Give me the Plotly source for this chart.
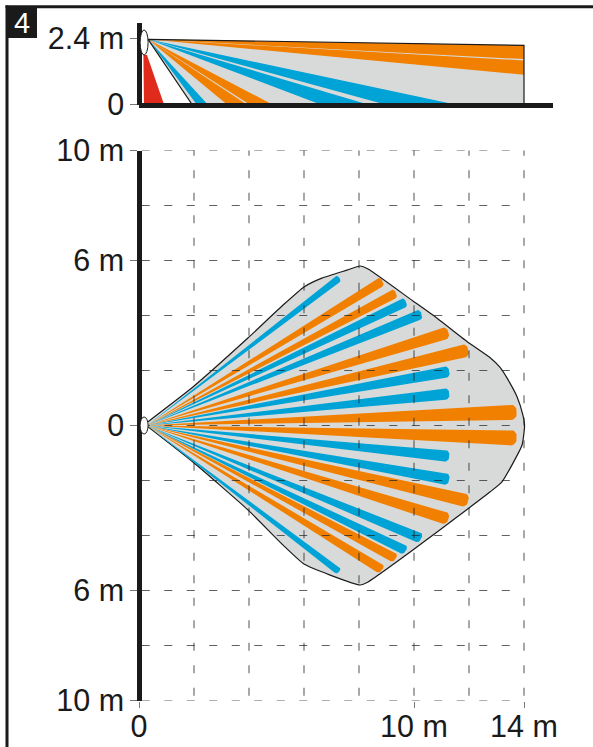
import math
import plotly.graph_objects as go

W, H = 593, 747
SCALE = 27.5  # pixels per metre in the source drawing

ORANGE = "#f28000"
BLUE = "#00a3d6"
GREY = "#d8dada"
RED = "#e02a1c"
INK = "#1a1a1a"
FONT = "Liberation Sans, Arial, sans-serif"
FS = 30.5

# --- top view (metres)
TOP_Y_TICKS = [10, 6, 0, -6, -10]
TOP_Y_TEXT = ["10 m", "6 m", "0", "6 m", "10 m"]
X_TICKS = [0, 10, 14]
X_TEXT = ["0", "10 m", "14 m"]
GRID_X = [2, 4, 6, 8, 10, 12, 14]
GRID_Y = [10, 8, 6, 4, 2, 0, -2, -4, -6, -8, -10]

ZONE_X = [0.33, 1.96, 3.96, 5.24, 6.0, 6.65, 7.56, 8.04, 8.33, 9.96, 10.84, 12.0, 12.76,
          13.13, 13.38, 13.75, 13.96, 14.02, 13.93, 13.56, 13.2, 12.76, 12.0, 10.84, 9.96,
          8.33, 8.04, 6.95, 6.0, 5.24, 3.96, 1.96, 0.33]
ZONE_Y = [0.14, 1.4, 3.18, 4.38, 5.04, 5.36, 5.65, 5.8, 5.69, 4.53, 3.9, 3.0, 2.47,
          2.11, 1.73, 1.04, 0.38, 0.0, -0.71, -1.44, -2.05, -2.42, -3.0, -3.87, -4.53,
          -5.69, -5.8, -5.44, -5.04, -4.35, -3.07, -1.33, -0.05]

BEAM_TIP_X = [7.28, 8.85, 9.34, 9.71, 10.27, 11.25, 11.97, 11.28, 11.28, 13.73,
              13.73, 11.28, 11.28, 11.97, 11.25, 10.27, 9.71, 9.34, 8.85, 7.28]
BEAM_TIP_Y = [5.37, 5.26, 4.83, 4.5, 4.07, 3.39, 2.75, 1.97, 1.16, 0.49,
              -0.45, -1.12, -1.97, -2.74, -3.4, -4.1, -4.54, -4.83, -5.24, -5.31]
BEAM_WIDTH = [0.27, 0.36, 0.36, 0.36, 0.39, 0.45, 0.48, 0.42, 0.42, 0.56,
              0.56, 0.42, 0.42, 0.48, 0.45, 0.39, 0.36, 0.36, 0.36, 0.27]
BEAM_COLOR = [BLUE, ORANGE, ORANGE, BLUE, BLUE, ORANGE, ORANGE, BLUE, BLUE, ORANGE,
              ORANGE, BLUE, BLUE, ORANGE, ORANGE, BLUE, BLUE, ORANGE, ORANGE, BLUE]
APEX_X, APEX_Y = 0.29, 0.0

# --- side view (metres)
SIDE_Y_TICKS = [2.4, 0]
SIDE_Y_TEXT = ["2.4 m", "0"]
SIDE_APEX = (0.33, 2.37)
SIDE_ZONE_X = [0.33, 14.0, 14.0, 1.93]
SIDE_ZONE_Y = [2.37, 2.15, 0.0, 0.0]
SIDE_RED_X = [0.16, 0.29, 0.91, 0.18]
SIDE_RED_Y = [1.8, 1.8, 0.0, 0.0]
# each beam: two far-end points
SIDE_A_X = [14.0, 14.0, 11.5, 8.33, 4.85, 3.92, 2.5]
SIDE_A_Y = [2.15, 1.6, 0.0, 0.0, 0.0, 0.0, 0.0]
SIDE_B_X = [14.0, 14.0, 8.95, 6.6, 4.02, 3.2, 2.1]
SIDE_B_Y = [1.65, 1.08, 0.0, 0.0, 0.0, 0.0, 0.0]
SIDE_COLOR = [ORANGE, ORANGE, BLUE, BLUE, ORANGE, ORANGE, BLUE]

# --- sensor ellipses: x0, x1, y0, y1
SENSOR_TOP = [0.04, 0.33, -0.31, 0.31]
SENSOR_SIDE = [0.04, 0.33, 1.80, 2.71]


def beam_outline(tx, ty, w):
    dx, dy = tx - APEX_X, ty - APEX_Y
    length = math.hypot(dx, dy)
    ux, uy = dx / length, dy / length
    nx, ny = -uy, ux
    hw = w / 2
    r = hw * 0.75
    xs, ys = [APEX_X], [APEX_Y]
    arc = []
    for k in range(9):
        a = math.pi / 2 * k / 8
        along = length - r + r * math.sin(a)
        off = hw - r + r * math.cos(a)
        arc.append((along, off))
    pts = arc + [(a, -o) for a, o in reversed(arc)]
    for along, off in pts:
        xs.append(APEX_X + ux * along + nx * off)
        ys.append(APEX_Y + uy * along + ny * off)
    xs.append(APEX_X)
    ys.append(APEX_Y)
    return xs, ys


fig = go.Figure()


def poly(xs, ys, color, axes):
    fig.add_trace(go.Scatter(x=xs, y=ys, mode="lines", fill="toself", fillcolor=color,
                             line=dict(width=0), hoverinfo="skip", showlegend=False,
                             xaxis=axes[0], yaxis=axes[1]))


# side view
poly(SIDE_ZONE_X, SIDE_ZONE_Y, GREY, ("x2", "y2"))
poly(SIDE_RED_X, SIDE_RED_Y, RED, ("x2", "y2"))
for ax_, ay_, bx_, by_, c in zip(SIDE_A_X, SIDE_A_Y, SIDE_B_X, SIDE_B_Y, SIDE_COLOR):
    poly([SIDE_APEX[0], ax_, bx_], [SIDE_APEX[1], ay_, by_], c, ("x2", "y2"))
fig.add_trace(go.Scatter(x=SIDE_ZONE_X + SIDE_ZONE_X[:1], y=SIDE_ZONE_Y + SIDE_ZONE_Y[:1],
                         mode="lines", line=dict(color=INK, width=1.2),
                         hoverinfo="skip", showlegend=False, xaxis="x2", yaxis="y2"))

# top view
fig.add_trace(go.Scatter(x=ZONE_X, y=ZONE_Y, mode="lines", fill="toself", fillcolor=GREY,
                         line=dict(color=INK, width=1.2, shape="spline", smoothing=0.5),
                         hoverinfo="skip", showlegend=False))
for tx, ty, w, c in zip(BEAM_TIP_X, BEAM_TIP_Y, BEAM_WIDTH, BEAM_COLOR):
    xs, ys = beam_outline(tx, ty, w)
    poly(xs, ys, c, ("x", "y"))

GRID_LINE = dict(color="rgba(35,35,35,0.72)", width=1.1, dash="8px,14.5px")
for gy in GRID_Y:
    fig.add_trace(go.Scatter(x=[0.1, 14], y=[gy, gy], mode="lines", line=GRID_LINE,
                             hoverinfo="skip", showlegend=False, cliponaxis=False))
for gx in GRID_X:
    fig.add_trace(go.Scatter(x=[gx, gx], y=[10.1, -10.2], mode="lines", line=GRID_LINE,
                             hoverinfo="skip", showlegend=False, cliponaxis=False))

x_domain = [139 / W, 553 / W]
x_range = [0, (553 - 139) / SCALE]
tick_font = dict(family=FONT, size=FS, color=INK)
AXIS_W = 4.5

fig.update_layout(
    width=W, height=H, autosize=False,
    margin=dict(l=0, r=0, t=0, b=0, autoexpand=False),
    paper_bgcolor="white", plot_bgcolor="rgba(0,0,0,0)",
    font=dict(family=FONT, color=INK),
    showlegend=False,
    xaxis=dict(domain=x_domain, range=x_range, anchor="y", showgrid=False, zeroline=False,
               tickmode="array", tickvals=X_TICKS, ticktext=X_TEXT, ticks="outside",
               ticklen=6, tickcolor="#777", tickfont=tick_font, showline=False, automargin=False,
               ticklabelstandoff=-7),
    yaxis=dict(domain=[(H - 700.5) / H, (H - 150.5) / H], range=[-10, 10],
               anchor="free", position=139 / W,
               showgrid=False, zeroline=False, showline=True, linecolor=INK, linewidth=AXIS_W,
               tickmode="array", tickvals=TOP_Y_TICKS, ticktext=TOP_Y_TEXT, ticks="outside",
               ticklen=7, tickcolor="#777", tickfont=tick_font, automargin=False),
    xaxis2=dict(domain=x_domain, range=x_range, anchor="free",
                position=(H - 104.5) / H, showgrid=False, zeroline=False,
                showline=True, linecolor=INK, linewidth=AXIS_W, showticklabels=False, ticks="",
                automargin=False),
    yaxis2=dict(domain=[(H - 104.5) / H, (H - 22.7) / H], range=[0, (104.5 - 22.7) / SCALE],
                anchor="free", position=139 / W,
                showgrid=False, zeroline=False, showline=True, linecolor=INK,
                linewidth=AXIS_W, tickmode="array", tickvals=SIDE_Y_TICKS, ticktext=SIDE_Y_TEXT,
                ticks="outside", ticklen=7, tickcolor="#777", tickfont=tick_font, automargin=False),
    shapes=[
        dict(type="rect", xref="paper", yref="paper", x0=5.5 / W, x1=8.5 / W, y0=0, y1=1 - 5.5 / H,
             fillcolor=INK, line_width=0),
        dict(type="rect", xref="paper", yref="paper", x0=5.5 / W, x1=1, y0=1 - 8.3 / H, y1=1 - 5.3 / H,
             fillcolor=INK, line_width=0),
        dict(type="rect", xref="paper", yref="paper", x0=6 / W, x1=37 / W, y0=1 - 38 / H, y1=1 - 6 / H,
             fillcolor=INK, line_width=0),
        dict(type="circle", xref="x", yref="y", x0=SENSOR_TOP[0], x1=SENSOR_TOP[1],
             y0=SENSOR_TOP[2], y1=SENSOR_TOP[3], fillcolor="white", line=dict(color=INK, width=1)),
        dict(type="circle", xref="x2", yref="y2", x0=SENSOR_SIDE[0], x1=SENSOR_SIDE[1],
             y0=SENSOR_SIDE[2], y1=SENSOR_SIDE[3], fillcolor="white", line=dict(color=INK, width=1)),
    ],
    annotations=[
        dict(text="4", xref="paper", yref="paper", x=22 / W, y=1 - 23 / H, showarrow=False,
             font=dict(family=FONT, size=29, color="white"), xanchor="center", yanchor="middle"),
    ],
)

fig.write_html("out.html", config={"displayModeBar": False},
               post_script="document.body.style.margin='0';document.body.style.overflow='hidden';")
